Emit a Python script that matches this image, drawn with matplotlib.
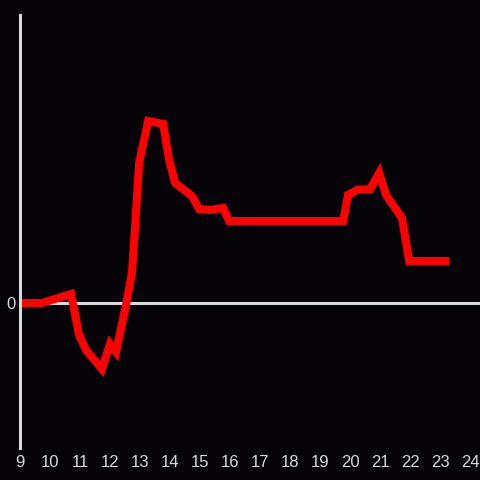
import matplotlib
matplotlib.use("Agg")
import matplotlib.pyplot as plt

# --- data (hour of day, relative value) ---
hours = [9.0, 9.73, 10.7, 10.97, 11.2, 11.73, 12.0, 12.2, 12.5, 12.73,
         12.83, 12.97, 13.27, 13.77, 13.97, 14.17, 14.73, 14.97, 15.33, 15.77,
         15.97, 19.77, 19.93, 20.23, 20.67, 20.97, 21.2, 21.73, 21.97, 23.3]
values = [0, 0, 9, -32, -47, -66, -41, -49, -7, 30,
          73, 140, 182, 179, 143, 120, 107, 94, 93, 95,
          82, 82, 108, 113, 114, 130, 108, 85, 42, 42]

xticks = list(range(9, 25))
bg = "#050308"
fg = "#d9d9d9"

fig = plt.figure(figsize=(4.8, 4.8), dpi=100, facecolor=bg)
ax = fig.add_axes([20 / 480, 32 / 480, 460 / 480, 433 / 480])
ax.set_facecolor(bg)

# zero line under the data line
ax.axhline(0, color=fg, linewidth=2.2, zorder=1)
ax.plot(hours, values, color="#ff0000", linewidth=5.8,
        solid_joinstyle="miter", solid_capstyle="butt", zorder=2)

ax.set_xlim(9, 24.33)
ax.set_ylim(-145, 288)

for s in ["top", "right", "bottom"]:
    ax.spines[s].set_visible(False)
ax.spines["left"].set_color(fg)
ax.spines["left"].set_linewidth(2.2)

ax.set_xticks(xticks)
ax.set_xticklabels([str(h) for h in xticks], fontfamily="Liberation Sans")
ax.set_yticks([0])
ax.set_yticklabels(["0"], fontfamily="Liberation Sans")
ax.tick_params(length=0, colors=fg, labelsize=12)
ax.tick_params(axis="x", pad=5)
ax.tick_params(axis="y", pad=3)

fig.savefig("out.png", dpi=100, facecolor=bg)
